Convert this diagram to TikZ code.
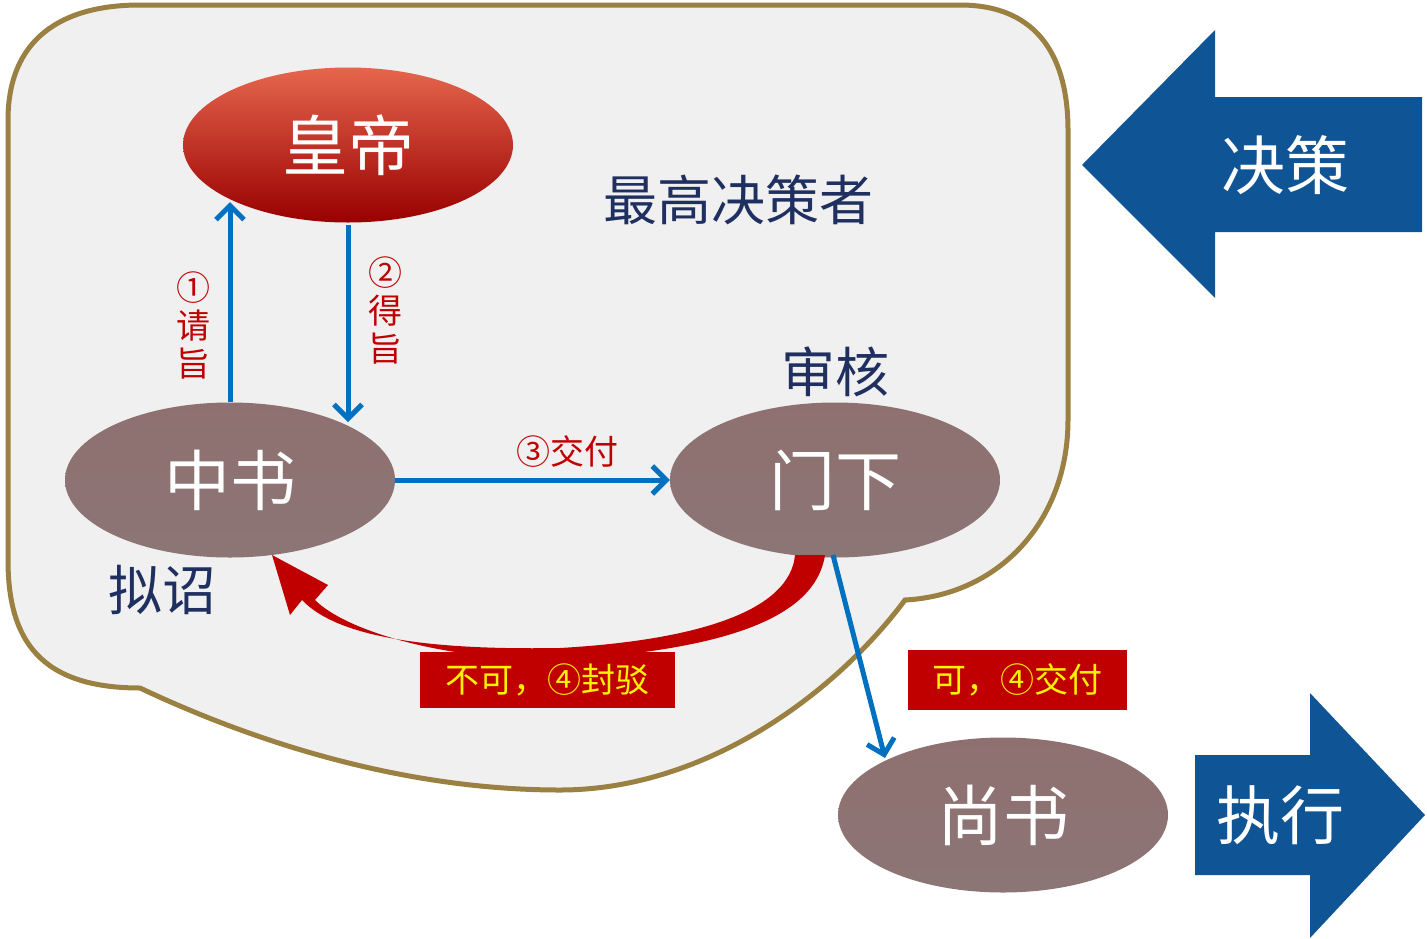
\documentclass[tikz,border=0pt]{standalone}
\usepackage{fontspec}
\setmainfont{Noto Sans CJK SC}
\usetikzlibrary{arrows.meta}
\definecolor{navy}{HTML}{1F3060}
\definecolor{ablue}{HTML}{0070C0}
\definecolor{bblue}{HTML}{0F5494}
\definecolor{rred}{HTML}{C00000}
\tikzset{
 x=1pt,y=-1pt,
 ell/.style={ellipse, minimum width=330, minimum height=155, text=white, font=\fontsize{66}{66}\selectfont, inner sep=0},
 grayell/.style={ell, top color=gray!60!red!30!gray, bottom color=black!50!red!20!gray!90},
 flow/.style={ablue, line width=5, -{Straight Barb[length=14,width=28,line width=5]}},
 lbl/.style={text=navy, font=\fontsize{54}{54}\selectfont},
 rlab/.style={text=rred, font=\fontsize{34}{38}\selectfont, align=center},
 box/.style={fill=rred, text=yellow, font=\fontsize{34}{34}\selectfont, inner sep=4, minimum height=56}
}
\usetikzlibrary{shapes.geometric}
\begin{document}
\begin{tikzpicture}
\useasboundingbox (0,0) rectangle (1427,938);
% blob
\draw[line width=5, draw=brown!60!olive!70!gray, fill=gray!12]
 (140,5) -- (960,5) .. controls (1040,5) and (1068,60) .. (1068,130)
 -- (1068,420) .. controls (1068,520) and (1000,595) .. (905,600)
 .. controls (830,700) and (700,790) .. (560,790)
 .. controls (400,790) and (250,740) .. (140,688)
 .. controls (40,688) and (8,640) .. (8,560)
 -- (8,120) .. controls (8,40) and (60,5) .. (140,5) -- cycle;
% nodes
\node[ell, top color=red!50!brown!80, bottom color=red!60!black, font=\fontsize{66}{66}\selectfont] (hd) at (348,145) {皇帝};
\node[grayell] (zs) at (230,480) {中书};
\node[grayell] (mx) at (835,480) {门下};
\node[grayell] (ss) at (1003,815) {尚书};
% texts
\node[lbl] (t1) at (738,200) {最高决策者};
\node[lbl] (t2) at (835,372) {审核};
\node[lbl] (t3) at (162,590) {拟诏};
% arrows
\coordinate (a1) at (230,402); \coordinate (a1e) at (230,202);
\draw[flow] (a1) -- (a1e);
\coordinate (a2) at (348,225); \coordinate (a2e) at (348,422);
\draw[flow] (a2) -- (a2e);
\draw[flow] (zs.east) -- (mx.west);
\coordinate (a4) at (833,555); \coordinate (a4e) at (885,758);
\draw[flow] (a4) -- (a4e);
\node[rlab] (l1) at (193,325) {①\\请\\旨};
\node[rlab] (l2) at (385,310) {②\\得\\旨};
\node[rlab] (l3) at (567,452) {③交付};
% red curved arrow
\fill[rred] (795,555) -- (825,555) .. controls (815,620) and (720,650) .. (560,660)
 .. controls (440,660) and (345,630) .. (315,600) -- (328,585) -- (272,555) -- (290,615) -- (302,600)
 .. controls (340,640) and (440,650) .. (560,648)
 .. controls (700,640) and (790,610) .. (795,555) -- cycle;
\node[box, minimum width=255] (b1) at (547,680) {不可，④封驳};
\node[box, minimum width=219, minimum height=60] (b2) at (1017,680) {可，④交付};
% big arrows
\fill[bblue] (1082,165) -- (1215,30) -- (1215,97) -- (1422,97) -- (1422,232) -- (1215,232) -- (1215,298) -- cycle;
\node[text=white, font=\fontsize{64}{64}\selectfont] (jc) at (1285,165) {决策};
\fill[bblue] (1195,755) -- (1310,755) -- (1310,693) -- (1425,815) -- (1310,938) -- (1310,875) -- (1195,875) -- cycle;
\node[text=white, font=\fontsize{64}{64}\selectfont] (zx) at (1280,815) {执行};
\end{tikzpicture}
\end{document}
